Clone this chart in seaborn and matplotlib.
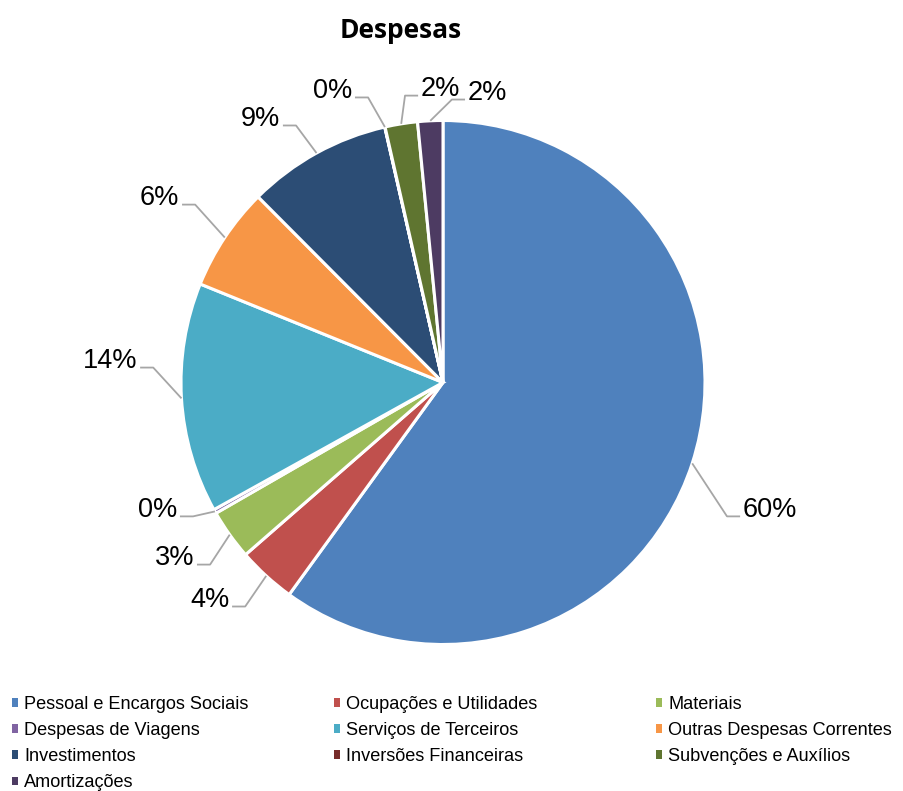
import matplotlib
matplotlib.use("Agg")
import matplotlib.pyplot as plt
from matplotlib.patches import Patch
import numpy as np
import seaborn as sns

# ---- data ----
categories = [
    "Pessoal e Encargos Sociais", "Ocupações e Utilidades", "Materiais",
    "Despesas de Viagens", "Serviços de Terceiros", "Outras Despesas Correntes",
    "Investimentos", "Inversões Financeiras", "Subvenções e Auxílios",
    "Amortizações",
]
shares = [60.0, 3.6, 3.1, 0.25, 14.2, 6.4, 8.9, 0.02, 2.0, 1.55]
colors_hex = ["#4F81BD", "#C0504D", "#9BBB59", "#8064A2", "#4BACC6",
              "#F79646", "#2C4D75", "#772C2A", "#5F7530", "#4D3B62"]
title = "Despesas"

# ---- layout (label anchor points, in pie-radius units from centre) ----
label_pos = [(1.134, -0.511), (-0.805, -0.855), (-0.939, -0.695), (-1.004, -0.511),
             (-1.156, 0.057), (-0.996, 0.679), (-0.611, 0.981), (-0.336, 1.088),
             (-0.095, 1.095), (0.084, 1.080)]

sns.set_theme(style="white")
plt.rcParams["font.family"] = ["Liberation Sans", "DejaVu Sans"]
plt.rcParams["text.color"] = "black"
palette = sns.color_palette(colors_hex)

W, H = 904, 791
fig = plt.figure(figsize=(W / 100, H / 100), dpi=100)
cx, cy, R = 443, 382.5, 262
ax = fig.add_axes([(cx - R) / W, (H - cy - R) / H, 2 * R / W, 2 * R / H])

wedges, _ = ax.pie(shares, colors=palette, startangle=90, counterclock=False,
                   radius=1, wedgeprops=dict(edgecolor="white", linewidth=2.2))
ax.set_xlim(-1, 1)
ax.set_ylim(-1, 1)
ax.set_aspect("equal")
ax.axis("off")

total = sum(shares)
for w, v, (lx, ly) in zip(wedges, shares, label_pos):
    mid = np.deg2rad((w.theta1 + w.theta2) / 2)
    ax_, ay_ = np.cos(mid), np.sin(mid)
    right = lx > ax_
    elbow = lx - 0.05 if right else lx + 0.05
    ax.plot([ax_, elbow, lx], [ay_, ly, ly], color="#A6A6A6",
            lw=1.3, clip_on=False, solid_capstyle="butt")
    txt = f"{round(v / total * 100):.0f}%"
    ax.text(lx + (0.01 if right else -0.01), ly + 0.024, txt,
            ha="left" if right else "right", va="center", fontsize=19.5,
            color="black", clip_on=False)

fig.text(401 / W, 1 - 30 / H, title, ha="center", va="center", color="black",
         fontsize=19, fontweight="bold", family=["Open Sans", "DejaVu Sans"])

# legend in three columns, filled row-wise
col_x = [12, 334, 656]
for c in range(3):
    idx = list(range(c, len(categories), 3))
    handles = [Patch(facecolor=palette[i], edgecolor="none") for i in idx]
    labels = [categories[i] for i in idx]
    fig.legend(handles, labels, loc="upper left",
               bbox_to_anchor=(col_x[c] / W, 1 - 696 / H),
               frameon=False, fontsize=13.1, handlelength=0.33,
               handleheight=0.33, handletextpad=0.35, labelspacing=0.5,
               borderpad=0, borderaxespad=0)

fig.savefig("out.png", dpi=100, facecolor="white")
